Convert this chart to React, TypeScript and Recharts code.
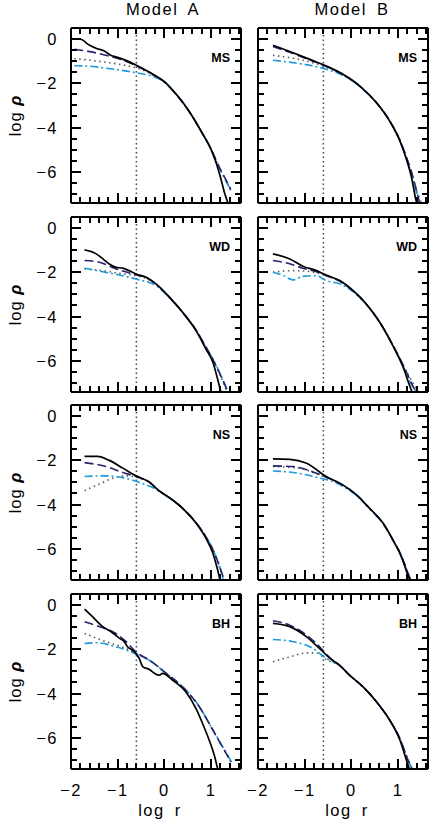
import React from 'react';
import { LineChart, Line, XAxis, YAxis, ReferenceLine } from 'recharts';

// axis ticks (minor + major)
const xTicks = [-2, -1.8, -1.6, -1.4, -1.2, -1, -0.8, -0.6, -0.4, -0.2, 0, 0.2, 0.4, 0.6, 0.8, 1, 1.2, 1.4, 1.6];
const yTicks = [-7, -6.5, -6, -5.5, -5, -4.5, -4, -3.5, -3, -2.5, -2, -1.5, -1, -0.5, 0, 0.5];
const rCut = -0.6;

// MS, Model A
const msA_solid = [[-2, 0], [-1.8, 0], [-1.62, -0.25], [-1.45, -0.42], [-1.3, -0.52], [-1.15, -0.72], [-1.0, -0.82], [-0.8, -0.98], [-0.6, -1.18], [-0.4, -1.4], [-0.2, -1.64], [0, -1.92], [0.2, -2.36], [0.4, -2.88], [0.6, -3.5], [0.8, -4.22], [1.0, -5.0], [1.1, -5.55], [1.2, -6.25], [1.3, -7.05], [1.36, -7.42]];
const msA_dashed = [[-1.93, -0.45], [-1.6, -0.56], [-1.3, -0.7], [-1.0, -0.87], [-0.8, -1.02], [-0.6, -1.2], [-0.4, -1.41], [-0.2, -1.65], [0, -1.93], [0.2, -2.37], [0.4, -2.88], [0.6, -3.5], [0.8, -4.22], [1.0, -4.98], [1.1, -5.45], [1.2, -5.9], [1.3, -6.3], [1.42, -6.8]];
const msA_dotted = [[-1.93, -0.88], [-1.6, -0.95], [-1.3, -1.03], [-1.0, -1.12], [-0.8, -1.2], [-0.6, -1.3], [-0.4, -1.45], [-0.2, -1.67], [0, -1.94], [0.2, -2.37], [0.4, -2.88], [0.6, -3.5], [0.8, -4.22], [1.0, -4.98], [1.1, -5.47], [1.2, -5.92], [1.3, -6.33], [1.42, -6.83]];
const msA_dashdot = [[-1.93, -1.2], [-1.6, -1.22], [-1.3, -1.3], [-1.0, -1.38], [-0.6, -1.52], [-0.4, -1.6], [-0.2, -1.72], [0, -1.95], [0.2, -2.38], [0.4, -2.89], [0.6, -3.5], [0.8, -4.22], [1.0, -4.98], [1.1, -5.5], [1.2, -5.95], [1.3, -6.35], [1.42, -6.85]];

// MS, Model B
const msB_solid = [[-1.68, -0.27], [-1.25, -0.61], [-0.89, -0.91], [-0.54, -1.21], [-0.18, -1.59], [0.18, -2.12], [0.54, -2.88], [0.82, -3.71], [1.04, -4.62], [1.18, -5.45], [1.29, -6.29], [1.39, -7.35], [1.4, -7.42]];
const msB_dashed = [[-1.68, -0.33], [-1.25, -0.65], [-0.89, -0.94], [-0.54, -1.23], [-0.18, -1.6], [0.18, -2.13], [0.54, -2.89], [0.82, -3.7], [1.04, -4.58], [1.18, -5.35], [1.3, -6.1], [1.4, -6.9], [1.46, -7.42]];
const msB_dotted = [[-1.68, -0.73], [-1.25, -0.86], [-0.89, -1.03], [-0.54, -1.26], [-0.18, -1.61], [0.18, -2.13], [0.54, -2.89], [0.82, -3.7], [1.04, -4.58], [1.18, -5.4], [1.3, -6.2], [1.42, -7.0], [1.5, -7.42]];
const msB_dashdot = [[-1.68, -0.95], [-1.25, -1.06], [-0.89, -1.18], [-0.54, -1.36], [-0.18, -1.64], [0.18, -2.14], [0.54, -2.9], [0.82, -3.7], [1.04, -4.6], [1.18, -5.42], [1.3, -6.2], [1.4, -7.0], [1.45, -7.42]];

// WD, Model A
const wdA_solid = [[-1.71, -0.98], [-1.46, -1.16], [-1.3, -1.42], [-1.18, -1.62], [-1.04, -1.77], [-0.89, -1.81], [-0.75, -1.93], [-0.61, -2.07], [-0.39, -2.22], [-0.18, -2.52], [0.11, -3.13], [0.39, -3.81], [0.68, -4.65], [0.89, -5.48], [1.04, -6.08], [1.14, -6.84], [1.21, -7.42]];
const wdA_dashed = [[-1.71, -1.46], [-1.39, -1.54], [-1.04, -1.84], [-0.61, -2.11], [-0.39, -2.24], [-0.18, -2.53], [0.11, -3.13], [0.39, -3.81], [0.68, -4.62], [0.89, -5.38], [1.04, -5.95], [1.2, -6.65], [1.36, -7.4]];
const wdA_dotted = [[-1.71, -1.84], [-1.3, -1.93], [-0.89, -2.07], [-0.61, -2.14], [-0.39, -2.27], [-0.18, -2.54], [0.11, -3.13], [0.39, -3.81], [0.68, -4.62], [0.89, -5.4], [1.04, -5.98], [1.2, -6.7], [1.34, -7.42]];
const wdA_dashdot = [[-1.71, -1.81], [-1.25, -2.0], [-0.9, -2.15], [-0.61, -2.3], [-0.18, -2.6], [0.11, -3.15], [0.39, -3.82], [0.68, -4.63], [0.89, -5.4], [1.04, -5.93], [1.2, -6.62], [1.36, -7.42]];

// WD, Model B
const wdB_solid = [[-1.68, -1.16], [-1.32, -1.39], [-1.04, -1.72], [-0.75, -1.92], [-0.54, -2.12], [-0.25, -2.37], [0.04, -2.83], [0.32, -3.43], [0.61, -4.27], [0.89, -5.33], [1.11, -6.31], [1.25, -7.15], [1.3, -7.42]];
const wdB_dashed = [[-1.68, -1.46], [-1.32, -1.61], [-1.04, -1.81], [-0.75, -1.97], [-0.54, -2.15], [-0.25, -2.4], [0.04, -2.85], [0.32, -3.45], [0.61, -4.27], [0.89, -5.3], [1.11, -6.2], [1.25, -6.85], [1.38, -7.42]];
const wdB_dotted = [[-1.68, -1.99], [-1.25, -1.92], [-0.89, -1.96], [-0.54, -2.15], [-0.25, -2.4], [0.04, -2.85], [0.32, -3.45], [0.61, -4.27], [0.89, -5.3], [1.11, -6.22], [1.3, -6.95], [1.43, -7.42]];
const wdB_dashdot = [[-1.68, -1.99], [-1.46, -2.14], [-1.25, -2.34], [-1.04, -2.18], [-0.75, -2.15], [-0.54, -2.37], [-0.25, -2.52], [0.04, -2.88], [0.32, -3.46], [0.61, -4.28], [0.89, -5.32], [1.11, -6.25], [1.25, -6.95], [1.4, -7.42]];

// NS, Model A
const nsA_solid = [[-1.71, -1.82], [-1.43, -1.82], [-1.18, -2.0], [-0.89, -2.35], [-0.61, -2.7], [-0.29, -3.03], [-0.18, -3.26], [0.18, -3.8], [0.39, -4.17], [0.68, -4.85], [0.89, -5.53], [1.04, -6.22], [1.14, -6.97], [1.19, -7.42]];
const nsA_dashed = [[-1.71, -2.1], [-1.25, -2.28], [-0.89, -2.55], [-0.61, -2.73], [-0.29, -3.04], [-0.18, -3.27], [0.18, -3.8], [0.39, -4.17], [0.68, -4.83], [0.89, -5.47], [1.04, -6.05], [1.18, -6.8], [1.28, -7.42]];
const nsA_dotted = [[-1.71, -3.37], [-1.39, -3.07], [-1.11, -2.81], [-0.82, -2.7], [-0.61, -2.76], [-0.29, -3.06], [-0.18, -3.28], [0.18, -3.8], [0.39, -4.17], [0.68, -4.83], [0.89, -5.47], [1.04, -6.1], [1.18, -6.85], [1.27, -7.42]];
const nsA_dashdot = [[-1.71, -2.73], [-1.25, -2.7], [-0.89, -2.78], [-0.54, -3.0], [-0.18, -3.31], [0.18, -3.82], [0.39, -4.18], [0.68, -4.83], [0.89, -5.47], [1.04, -6.05], [1.21, -7.0], [1.26, -7.42]];

// NS, Model B
const nsB_solid = [[-1.68, -1.93], [-1.32, -1.95], [-0.96, -2.13], [-0.54, -2.73], [-0.25, -3.03], [0.11, -3.56], [0.39, -4.17], [0.68, -4.85], [0.89, -5.61], [1.07, -6.37], [1.21, -7.2], [1.25, -7.42]];
const nsB_dashed = [[-1.68, -2.25], [-1.25, -2.28], [-0.75, -2.58], [-0.54, -2.76], [-0.25, -3.05], [0.11, -3.57], [0.39, -4.18], [0.68, -4.87], [0.89, -5.6], [1.07, -6.32], [1.21, -7.1], [1.27, -7.42]];
const nsB_dotted = [[-1.68, -2.28], [-1.11, -2.35], [-0.75, -2.61], [-0.54, -2.77], [-0.25, -3.05], [0.11, -3.57], [0.39, -4.18], [0.68, -4.87], [0.89, -5.6], [1.07, -6.32], [1.21, -7.1], [1.27, -7.42]];
const nsB_dashdot = [[-1.68, -2.48], [-1.25, -2.55], [-0.75, -2.76], [-0.32, -3.03], [0.11, -3.6], [0.39, -4.2], [0.68, -4.88], [0.89, -5.62], [1.07, -6.35], [1.21, -7.12], [1.27, -7.42]];

// BH, Model A
const bhA_solid = [[-1.71, -0.18], [-1.54, -0.52], [-1.32, -0.97], [-1.14, -1.2], [-0.96, -1.5], [-0.86, -1.65], [-0.79, -1.88], [-0.71, -2.0], [-0.61, -2.18], [-0.54, -2.41], [-0.46, -2.79], [-0.32, -2.91], [-0.21, -3.09], [-0.11, -3.17], [-0.04, -3.09], [0.18, -3.4], [0.46, -3.93], [0.68, -4.69], [0.82, -5.37], [0.96, -6.12], [1.07, -6.81], [1.14, -7.42]];
const bhA_dashed = [[-1.71, -0.75], [-1.39, -0.97], [-1.04, -1.28], [-0.82, -1.65], [-0.61, -2.11], [-0.32, -2.49], [0.04, -3.09], [0.39, -3.7], [0.75, -4.61], [1.04, -5.67], [1.25, -6.45], [1.43, -7.11]];
const bhA_dotted = [[-1.71, -1.28], [-1.25, -1.65], [-0.82, -1.96], [-0.54, -2.26], [-0.32, -2.5], [0.04, -3.09], [0.39, -3.7], [0.75, -4.61], [1.04, -5.67], [1.25, -6.45], [1.43, -7.11]];
const bhA_dashdot = [[-1.71, -1.73], [-1.46, -1.7], [-1.04, -1.88], [-0.61, -2.21], [-0.32, -2.5], [0.04, -3.09], [0.39, -3.7], [0.75, -4.6], [1.04, -5.65], [1.25, -6.42], [1.45, -7.15]];

// BH, Model B
const bhB_solid = [[-1.68, -0.82], [-1.32, -0.97], [-0.96, -1.43], [-0.68, -1.96], [-0.46, -2.41], [-0.25, -2.72], [-0.04, -3.17], [0.25, -3.7], [0.54, -4.38], [0.82, -5.21], [1.04, -6.12], [1.18, -7.03], [1.24, -7.42]];
const bhB_dashed = [[-1.68, -0.7], [-1.32, -0.9], [-0.96, -1.35], [-0.68, -1.88], [-0.46, -2.38], [-0.25, -2.72], [-0.04, -3.17], [0.25, -3.7], [0.54, -4.38], [0.82, -5.2], [1.04, -6.05], [1.2, -6.95], [1.3, -7.42]];
const bhB_dotted = [[-1.68, -2.56], [-1.32, -2.34], [-0.96, -2.16], [-0.75, -2.16], [-0.54, -2.46], [-0.25, -2.74], [-0.04, -3.17], [0.25, -3.7], [0.54, -4.38], [0.82, -5.2], [1.04, -6.05], [1.2, -6.95], [1.3, -7.42]];
const bhB_dashdot = [[-1.68, -1.55], [-1.25, -1.65], [-0.82, -1.96], [-0.54, -2.41], [-0.25, -2.73], [-0.04, -3.17], [0.25, -3.7], [0.54, -4.38], [0.82, -5.2], [1.04, -6.05], [1.2, -6.95], [1.3, -7.42]];

const panels = [
  { tag: 'MS', row: 0, col: 0, s: msA_solid, d: msA_dashed, o: msA_dotted, dd: msA_dashdot },
  { tag: 'MS', row: 0, col: 1, s: msB_solid, d: msB_dashed, o: msB_dotted, dd: msB_dashdot },
  { tag: 'WD', row: 1, col: 0, s: wdA_solid, d: wdA_dashed, o: wdA_dotted, dd: wdA_dashdot },
  { tag: 'WD', row: 1, col: 1, s: wdB_solid, d: wdB_dashed, o: wdB_dotted, dd: wdB_dashdot },
  { tag: 'NS', row: 2, col: 0, s: nsA_solid, d: nsA_dashed, o: nsA_dotted, dd: nsA_dashdot },
  { tag: 'NS', row: 2, col: 1, s: nsB_solid, d: nsB_dashed, o: nsB_dotted, dd: nsB_dashdot },
  { tag: 'BH', row: 3, col: 0, s: bhA_solid, d: bhA_dashed, o: bhA_dotted, dd: bhA_dashdot },
  { tag: 'BH', row: 3, col: 1, s: bhB_solid, d: bhB_dashed, o: bhB_dotted, dd: bhB_dashdot },
];

const FONT = '"Liberation Sans", Arial, Helvetica, sans-serif';
const X_DOMAIN = [-2, 1.64];
const Y_DOMAIN = [-7.42, 0.51];
const PW = 170;
const PH = 175;
const COL_X = [71, 258];
const ROW_Y = [28, 217, 405, 594];
const PAD = { top: 12, right: 12, bottom: 40, left: 64 };
// axes take 1px each, so the margin is one less than the padding
const M = { top: PAD.top - 1, right: PAD.right - 1, bottom: PAD.bottom - 1, left: PAD.left - 1 };
const frame = { stroke: '#000', strokeWidth: 2 };
const MAJOR = 10;
const MINOR = 6;

const pts = (a: number[][]) => a.map(([x, y]) => ({ x, y }));
const isInt = (v: number) => Math.abs(v - Math.round(v)) < 1e-6;
const fmt = (v: number) => (v < 0 ? '\u2212' + Math.abs(v) : String(v));

function BottomLabel(props: any) {
  const v = props.payload.value;
  if (!isInt(v)) return <g />;
  return <text x={Number(props.x)} y={Number(props.y) + 27} textAnchor="middle" fontSize={16.5} letterSpacing={1.5} fill="#000" fontFamily={FONT}>{fmt(v)}</text>;
}

function LeftLabel(props: any) {
  const v = props.payload.value;
  if (!isInt(v / 2)) return <g />;
  return <text x={Number(props.x) - 13} y={Number(props.y) + 6} textAnchor="end" fontSize={16.5} letterSpacing={1.5} fill="#000" fontFamily={FONT}>{fmt(v)}</text>;
}

// inward tick marks for one panel box, on the same linear axes as the chart
function TickMarks({ left, top }: { left: number; top: number }) {
  const sx = (v: number) => Math.round(left + ((v - X_DOMAIN[0]) / (X_DOMAIN[1] - X_DOMAIN[0])) * PW);
  const sy = (v: number) => Math.round(top + ((Y_DOMAIN[1] - v) / (Y_DOMAIN[1] - Y_DOMAIN[0])) * PH);
  const bottom = top + PH;
  const right = left + PW;
  const segs: number[][] = [];
  xTicks.forEach((v) => {
    const h = isInt(v) ? MAJOR : MINOR;
    const x = sx(v);
    segs.push([x, bottom, x, bottom - h]);
    segs.push([x, top, x, top + h]);
  });
  yTicks.forEach((v) => {
    const w = isInt(v / 2) ? MAJOR : MINOR;
    const y = sy(v);
    segs.push([left, y, left + w, y]);
    segs.push([right, y, right - w, y]);
  });
  const d = segs.map(([a, b, c, e]) => `M${a} ${b}L${c} ${e}`).join('');
  return <path d={d} stroke="#000000" strokeWidth={2} fill="none" />;
}

function Panel({ p }: { p: any }) {
  const showX = p.row === 3;
  const showY = p.col === 0;
  const line = (data: number[][], stroke: string, dash?: string, w = 1.6) => (
    <Line data={pts(data)} dataKey="y" type="monotone" stroke={stroke} strokeWidth={w} strokeDasharray={dash} dot={false} activeDot={false} isAnimationActive={false} />
  );
  return (
    <div style={{ position: 'absolute', left: COL_X[p.col] - PAD.left, top: ROW_Y[p.row] - PAD.top }}>
      <LineChart width={PW + PAD.left + PAD.right} height={PH + PAD.top + PAD.bottom} margin={M}>
        <XAxis type="number" dataKey="x" domain={X_DOMAIN} allowDataOverflow ticks={xTicks} interval={0} height={1} tickSize={0} tickMargin={0} tickLine={false} axisLine={frame} tick={showX ? BottomLabel : false} />
        <XAxis xAxisId="top" orientation="top" type="number" dataKey="x" domain={X_DOMAIN} allowDataOverflow ticks={xTicks} interval={0} height={1} tickLine={false} axisLine={frame} tick={false} />
        <YAxis type="number" domain={Y_DOMAIN} allowDataOverflow ticks={yTicks} interval={0} width={1} tickSize={0} tickMargin={0} tickLine={false} axisLine={frame} tick={showY ? LeftLabel : false} />
        <YAxis yAxisId="right" orientation="right" type="number" domain={Y_DOMAIN} allowDataOverflow ticks={yTicks} interval={0} width={1} tickLine={false} axisLine={frame} tick={false} />
        <ReferenceLine x={rCut} stroke="#2f5252" strokeWidth={1.5} strokeDasharray="1.5 3" />
        {line(p.o, '#5a5a5a', '1.5 3.5')}
        {line(p.dd, '#1f9ad8', '8 3 2 3')}
        {line(p.d, '#25256f', '9 4')}
        {line(p.s, '#000000', undefined, 1.7)}
      </LineChart>
    </div>
  );
}

export default function App() {
  return (
    <div style={{ position: 'absolute', left: 0, top: 0, width: 436, height: 825, background: '#fff' }}>
      {panels.map((p, i) => <Panel key={i} p={p} />)}
      <svg width={436} height={825} style={{ position: 'absolute', left: 0, top: 0, pointerEvents: 'none' }} fontFamily={FONT}>
        {panels.map((p, i) => <TickMarks key={'tm' + i} left={COL_X[p.col]} top={ROW_Y[p.row]} />)}
        <text x={163} y={15} textAnchor="middle" fontSize={16.5} letterSpacing={1.5} wordSpacing={4}>Model A</text>
        <text x={352} y={15} textAnchor="middle" fontSize={16.5} letterSpacing={1.5} wordSpacing={4}>Model B</text>
        {ROW_Y.map((top, i) => (
          <text key={'yl' + i} transform={`translate(21, ${top + PH / 2}) rotate(-90)`} textAnchor="middle" fontSize={16.5} letterSpacing={1}>
            log <tspan fontWeight="bold" fontStyle="italic">ρ</tspan>
          </text>
        ))}
        {COL_X.map((left, i) => (
          <text key={'xl' + i} x={left + PW / 2 + 4} y={816} textAnchor="middle" fontSize={16.5} letterSpacing={1.5} wordSpacing={4}>log r</text>
        ))}
        {panels.map((p, i) => (
          <text key={'tag' + i} x={COL_X[p.col] + PW - 11} y={ROW_Y[p.row] + 34} textAnchor="end" fontSize={12.5} fontWeight="bold">{p.tag}</text>
        ))}
      </svg>
    </div>
  );
}
